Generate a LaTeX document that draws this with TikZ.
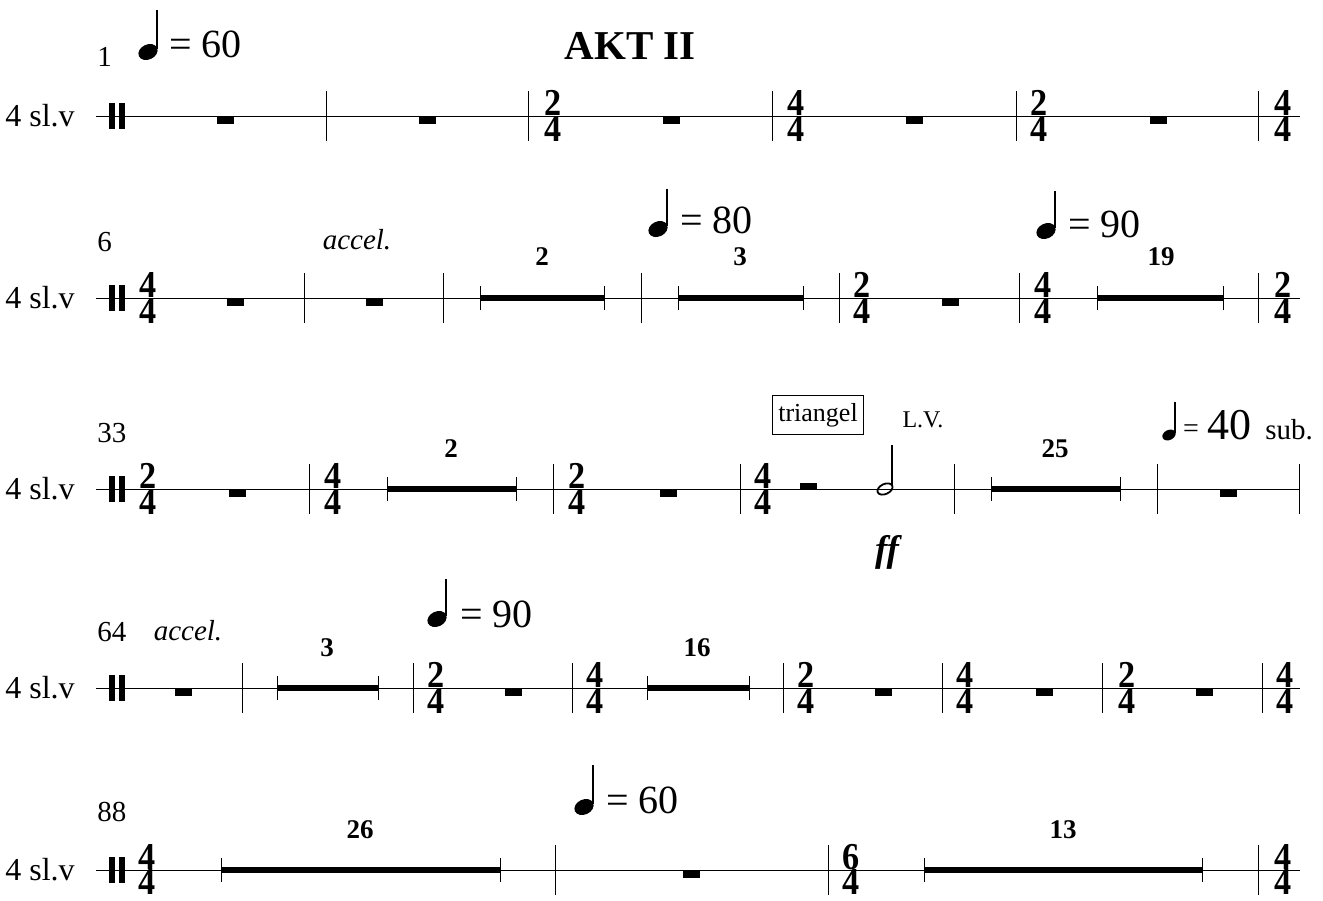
\documentclass[tikz,border=0pt]{standalone}
\usepackage{fontspec}
\newfontfamily\tms{Liberation Serif}
\begin{document}
\begin{tikzpicture}[x=0.5pt,y=-0.5pt,
  staff/.style={line width=0.5pt},
  barl/.style={line width=0.5pt},
  mrest/.style={line width=3.2pt},
  mtick/.style={line width=0.5pt},
  stem/.style={line width=0.6pt},
  wrest/.style={fill=black,inner sep=0pt,minimum width=8.5pt,minimum height=4pt},
  instr/.style={inner sep=0pt,font=\tms\fontsize{16}{16}\selectfont},
  mnum/.style={inner sep=0pt,anchor=west,font=\tms\fontsize{14.5}{14.5}\selectfont},
  tempo/.style={inner sep=0pt,anchor=west,font=\tms\fontsize{20}{20}\selectfont},
  expr/.style={inner sep=0pt,font=\tms\itshape\fontsize{14.5}{14.5}\selectfont},
  tsig/.style={inner sep=0pt,xscale=0.9,font=\tms\bfseries\fontsize{19}{19}\selectfont},
  rnum/.style={inner sep=0pt,font=\tms\bfseries\fontsize{13.5}{13.5}\selectfont}]
  \useasboundingbox (0,0) rectangle (1323,900);
  \draw (630,46) node[inner sep=0pt,font=\tms\bfseries\fontsize{20.5}{20.5}\selectfont] (akt) {AKT II};

  % row 1
  \draw[staff] (96,116) -- (1300,116);
  \draw (40,116) node[instr] (ins1) {4 sl.v};    \draw (97,57) node[mnum] (n1) {1};
  \fill (109,103) rectangle (115,129);  \fill (119,103) rectangle (125,129);
  \fill[rotate around={25:(148,52)}] (148,52) ellipse (10 and 7.5);  \draw[stem] (157,49) -- (157,10);
  \draw (169,44) node[tempo] (tp1) {= 60};
  \draw[barl] (326,91) -- (326,141);   \draw[barl] (528,91) -- (528,141);
  \draw[barl] (772,91) -- (772,141);   \draw[barl] (1016,91) -- (1016,141);
  \draw[barl] (1258,91) -- (1258,141);
  \draw (225,120) node[wrest] (r11) {};  \draw (427,120) node[wrest] (r12) {};
  \draw (671,120) node[wrest] (r13) {};  \draw (914,120) node[wrest] (r14) {};
  \draw (1158,120) node[wrest] (r15) {};
  \draw (553,103) node[tsig] (t11a) {2};   \draw (553,129) node[tsig] (t11b) {4};
  \draw (796,103) node[tsig] (t12a) {4};   \draw (796,129) node[tsig] (t12b) {4};
  \draw (1039,103) node[tsig] (t13a) {2};  \draw (1039,129) node[tsig] (t13b) {4};
  \draw (1283,103) node[tsig] (t14a) {4};  \draw (1283,129) node[tsig] (t14b) {4};

  % row 2
  \draw[staff] (96,298) -- (1300,298);
  \draw (40,298) node[instr] (ins2) {4 sl.v};    \draw (97,242) node[mnum] (n2) {6};
  \fill (109,285) rectangle (115,311);  \fill (119,285) rectangle (125,311);
  \draw (148,285) node[tsig] (t21a) {4};   \draw (148,311) node[tsig] (t21b) {4};
  \draw (357,240) node[expr] (acc1) {accel.};
  \draw[barl] (304,273) -- (304,323);   \draw[barl] (443,273) -- (443,323);
  \draw[barl] (641,273) -- (641,323);   \draw[barl] (839,273) -- (839,323);
  \draw[barl] (1019,273) -- (1019,323); \draw[barl] (1258,273) -- (1258,323);
  \draw (235,302) node[wrest] (r21) {};  \draw (374,302) node[wrest] (r22) {};
  \draw (950,302) node[wrest] (r23) {};
  \draw[mrest] (480,298) -- (604,298);  \draw[mtick] (480,286) -- (480,310);  \draw[mtick] (604,286) -- (604,310);
  \draw (542,257) node[rnum] (m21) {2};
  \draw[mrest] (678,298) -- (803,298);  \draw[mtick] (678,286) -- (678,310);  \draw[mtick] (803,286) -- (803,310);
  \draw (740,257) node[rnum] (m22) {3};
  \draw[mrest] (1097,298) -- (1223,298);  \draw[mtick] (1097,286) -- (1097,310);  \draw[mtick] (1223,286) -- (1223,310);
  \draw (1161,257) node[rnum] (m23) {19};
  \fill[rotate around={25:(658,229)}] (658,229) ellipse (10 and 7.5);  \draw[stem] (667,226) -- (667,189);
  \draw (680,220) node[tempo] (tp2) {= 80};
  \fill[rotate around={25:(1046,231)}] (1046,231) ellipse (10 and 7.5);  \draw[stem] (1055,228) -- (1055,191);
  \draw (1068,224) node[tempo] (tp3) {= 90};
  \draw (862,285) node[tsig] (t22a) {2};   \draw (862,311) node[tsig] (t22b) {4};
  \draw (1043,285) node[tsig] (t23a) {4};  \draw (1043,311) node[tsig] (t23b) {4};
  \draw (1283,285) node[tsig] (t24a) {2};  \draw (1283,311) node[tsig] (t24b) {4};

  % row 3
  \draw[staff] (96,489) -- (1300,489);
  \draw (40,489) node[instr] (ins3) {4 sl.v};    \draw (97,433) node[mnum] (n3) {33};
  \fill (109,476) rectangle (115,502);  \fill (119,476) rectangle (125,502);
  \draw (148,476) node[tsig] (t31a) {2};   \draw (148,502) node[tsig] (t31b) {4};
  \draw[barl] (309,464) -- (309,514);   \draw[barl] (553,464) -- (553,514);
  \draw[barl] (740,464) -- (740,514);   \draw[barl] (954,464) -- (954,514);
  \draw[barl] (1157,464) -- (1157,514); \draw[barl] (1299,464) -- (1299,514);
  \draw (237,493) node[wrest] (r31) {};  \draw (668,493) node[wrest] (r32) {};
  \draw (808,486) node[wrest,minimum height=3pt] (r33) {};  \draw (1228,493) node[wrest] (r34) {};
  \draw (333,476) node[tsig] (t32a) {4};   \draw (333,502) node[tsig] (t32b) {4};
  \draw (577,476) node[tsig] (t33a) {2};   \draw (577,502) node[tsig] (t33b) {4};
  \draw (763,476) node[tsig] (t34a) {4};   \draw (763,502) node[tsig] (t34b) {4};
  \draw[mrest] (387,489) -- (516,489);  \draw[mtick] (387,477) -- (387,501);  \draw[mtick] (516,477) -- (516,501);
  \draw (451,449) node[rnum] (m31) {2};
  \draw[mrest] (991,489) -- (1120,489);  \draw[mtick] (991,477) -- (991,501);  \draw[mtick] (1120,477) -- (1120,501);
  \draw (1055,449) node[rnum] (m32) {25};
  \draw[line width=0.9pt,rotate around={25:(885,489)}] (885,489) ellipse (8 and 5);
  \draw[stem] (892,486) -- (892,445);
  \draw (818,415) node[draw,line width=0.5pt,inner xsep=2.75pt,inner ysep=4pt,font=\tms\fontsize{13}{13}\selectfont] (tri) {triangel};
  \draw (923,420) node[inner sep=0pt,font=\tms\fontsize{12}{12}\selectfont] (lv) {L.V.};
  \draw (887,552) node[inner sep=0pt,font=\tms\bfseries\itshape\fontsize{18.5}{18.5}\selectfont] (ff1) {ff};
  \fill[rotate around={25:(1169,435)}] (1169,435) ellipse (7 and 5);  \draw[stem] (1175,433) -- (1175,402);
  \draw (1191,431) node[inner sep=0pt,font=\tms\fontsize{14}{14}\selectfont] (eq3) {=};
  \draw (1207,425) node[inner sep=0pt,anchor=west,font=\tms\fontsize{22}{22}\selectfont] (tp4) {40};
  \draw (1265,439) node[inner sep=0pt,anchor=base west,font=\tms\fontsize{14.5}{14.5}\selectfont] (sub) {sub.};

  % row 4
  \draw[staff] (96,688) -- (1300,688);
  \draw (40,688) node[instr] (ins4) {4 sl.v};    \draw (97,632) node[mnum] (n4) {64};
  \fill (109,675) rectangle (115,701);  \fill (119,675) rectangle (125,701);
  \draw (188,631) node[expr] (acc2) {accel.};
  \draw[barl] (242,663) -- (242,713);   \draw[barl] (413,663) -- (413,713);
  \draw[barl] (572,663) -- (572,713);   \draw[barl] (783,663) -- (783,713);
  \draw[barl] (942,663) -- (942,713);   \draw[barl] (1102,663) -- (1102,713);
  \draw[barl] (1262,663) -- (1262,713);
  \draw (183,692) node[wrest] (r41) {};  \draw (513,692) node[wrest] (r42) {};
  \draw (883,692) node[wrest] (r43) {};  \draw (1044,692) node[wrest] (r44) {};
  \draw (1204,692) node[wrest] (r45) {};
  \draw[mrest] (277,688) -- (378,688);  \draw[mtick] (277,676) -- (277,700);  \draw[mtick] (378,676) -- (378,700);
  \draw (327,648) node[rnum] (m41) {3};
  \draw[mrest] (647,688) -- (749,688);  \draw[mtick] (647,676) -- (647,700);  \draw[mtick] (749,676) -- (749,700);
  \draw (697,648) node[rnum] (m42) {16};
  \fill[rotate around={25:(437,619)}] (437,619) ellipse (10 and 7.5);  \draw[stem] (446,616) -- (446,579);
  \draw (460,614) node[tempo] (tp5) {= 90};
  \draw (436,675) node[tsig] (t41a) {2};   \draw (436,701) node[tsig] (t41b) {4};
  \draw (595,675) node[tsig] (t42a) {4};   \draw (595,701) node[tsig] (t42b) {4};
  \draw (806,675) node[tsig] (t43a) {2};   \draw (806,701) node[tsig] (t43b) {4};
  \draw (965,675) node[tsig] (t44a) {4};   \draw (965,701) node[tsig] (t44b) {4};
  \draw (1127,675) node[tsig] (t45a) {2};  \draw (1127,701) node[tsig] (t45b) {4};
  \draw (1285,675) node[tsig] (t46a) {4};  \draw (1285,701) node[tsig] (t46b) {4};

  % row 5
  \draw[staff] (96,870) -- (1300,870);
  \draw (40,870) node[instr] (ins5) {4 sl.v};    \draw (97,812) node[mnum] (n5) {88};
  \fill (109,857) rectangle (115,883);  \fill (119,857) rectangle (125,883);
  \draw (147,857) node[tsig] (t51a) {4};   \draw (147,882) node[tsig] (t51b) {4};
  \draw[barl] (555,845) -- (555,895);   \draw[barl] (828,845) -- (828,895);
  \draw[barl] (1258,845) -- (1258,895);
  \draw (691,874) node[wrest] (r51) {};
  \draw[mrest] (221,870) -- (500,870);  \draw[mtick] (221,858) -- (221,882);  \draw[mtick] (500,858) -- (500,882);
  \draw (360,830) node[rnum] (m51) {26};
  \draw[mrest] (924,870) -- (1202,870);  \draw[mtick] (924,858) -- (924,882);  \draw[mtick] (1202,858) -- (1202,882);
  \draw (1063,830) node[rnum] (m52) {13};
  \fill[rotate around={25:(584,807)}] (584,807) ellipse (10 and 7.5);  \draw[stem] (593,804) -- (593,765);
  \draw (606,800) node[tempo] (tp6) {= 60};
  \draw (851,857) node[tsig] (t52a) {6};   \draw (851,882) node[tsig] (t52b) {4};
  \draw (1283,857) node[tsig] (t53a) {4};  \draw (1283,882) node[tsig] (t53b) {4};
\end{tikzpicture}
\end{document}
